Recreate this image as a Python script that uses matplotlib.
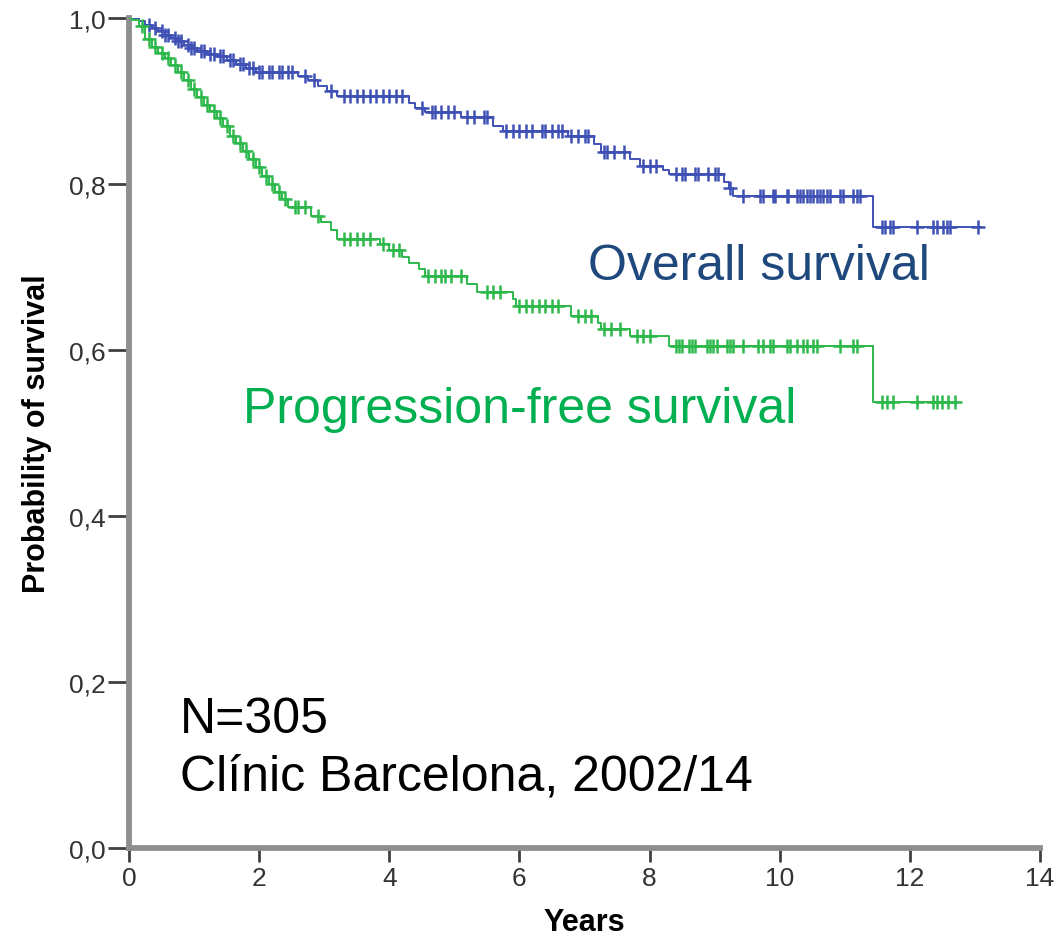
import numpy as np
import matplotlib
matplotlib.use("Agg")
import matplotlib.pyplot as plt

# ---- data ----
os_t = [0.15, 0.25, 0.35, 0.45, 0.55, 0.65, 0.75, 0.85, 0.95, 1.05, 1.2, 1.35, 1.5, 1.65, 1.8, 1.95,
        2.6, 2.75, 2.9, 3.05, 3.2, 4.3, 4.4, 4.55, 5.1, 5.6, 5.75, 6.75, 7.15, 7.25, 7.7, 7.85,
        8.2, 8.3, 9.15, 9.22, 9.28, 11.43]
os_s = [0.996, 0.992, 0.988, 0.984, 0.980, 0.976, 0.972, 0.968, 0.964, 0.960, 0.957, 0.954, 0.950,
        0.945, 0.940, 0.935, 0.930, 0.925, 0.918, 0.912, 0.906, 0.897, 0.891, 0.887, 0.881, 0.870,
        0.864, 0.858, 0.848, 0.839, 0.830, 0.822, 0.817, 0.812, 0.803, 0.795, 0.786, 0.748]
os_end = 13.1
os_cens = [0.3, 0.4, 0.5, 0.55, 0.6, 0.7, 0.75, 0.8, 0.9, 0.95, 1.0, 1.1, 1.15, 1.25, 1.3, 1.4, 1.45,
           1.55, 1.6, 1.7, 1.75, 1.85, 1.9, 2.0, 2.05, 2.15, 2.2, 2.3, 2.35, 2.45, 2.5, 2.7, 2.85,
           3.1, 3.3, 3.4, 3.5, 3.6, 3.7, 3.8, 3.9, 4.0, 4.1, 4.2, 4.5, 4.65, 4.7, 4.8, 4.9, 5.0,
           5.2, 5.3, 5.45, 5.5, 5.8, 5.9, 6.0, 6.1, 6.2, 6.35, 6.4, 6.5, 6.6, 6.65, 6.8, 6.9, 7.0,
           7.05, 7.3, 7.35, 7.45, 7.6, 7.9, 8.0, 8.1, 8.4, 8.5, 8.55, 8.7, 8.75, 8.9, 9.0, 9.05,
           9.24, 9.44, 9.7, 9.74, 9.9, 9.93, 10.11, 10.13, 10.26, 10.31, 10.36, 10.42, 10.46, 10.51,
           10.57, 10.62, 10.66, 10.73, 10.77, 10.92, 10.97, 11.13, 11.19, 11.23, 11.57, 11.62,
           11.69, 11.74, 12.11, 12.36, 12.42, 12.51, 12.57, 12.62, 13.05]

pfs_t = [0.05, 0.15, 0.25, 0.35, 0.45, 0.55, 0.65, 0.75, 0.85, 0.95, 1.05, 1.15, 1.25, 1.35, 1.45,
         1.55, 1.65, 1.75, 1.85, 1.95, 2.05, 2.15, 2.25, 2.35, 2.45, 2.8, 2.95, 3.1, 3.2, 3.85, 4.0,
         4.2, 4.3, 4.45, 4.55, 5.2, 5.35, 5.9, 5.95, 6.8, 7.2, 7.25, 7.7, 8.3, 11.43]
pfs_s = [0.997, 0.990, 0.975, 0.965, 0.958, 0.952, 0.943, 0.935, 0.925, 0.915, 0.905, 0.895, 0.888,
         0.880, 0.870, 0.858, 0.850, 0.840, 0.830, 0.820, 0.810, 0.800, 0.790, 0.782, 0.772, 0.762,
         0.754, 0.745, 0.734, 0.728, 0.720, 0.712, 0.705, 0.697, 0.689, 0.680, 0.670, 0.662, 0.653,
         0.641, 0.632, 0.625, 0.617, 0.605, 0.537]
pfs_end = 12.73
pfs_cens = [0.2, 0.3, 0.4, 0.5, 0.6, 0.7, 0.8, 0.9, 1.0, 1.1, 1.2, 1.3, 1.4, 1.5, 1.6, 1.7, 1.8, 1.9,
            2.0, 2.1, 2.2, 2.3, 2.4, 2.55, 2.6, 2.7, 2.9, 3.3, 3.4, 3.5, 3.6, 3.7, 3.9, 4.05, 4.15,
            4.6, 4.7, 4.8, 4.85, 4.95, 5.1, 5.5, 5.6, 5.7, 6.0, 6.1, 6.2, 6.3, 6.4, 6.5, 6.6, 6.9,
            7.0, 7.1, 7.3, 7.4, 7.55, 7.8, 7.9, 8.0, 8.4, 8.45, 8.5, 8.6, 8.65, 8.7, 8.88, 8.93,
            8.98, 9.04, 9.19, 9.24, 9.28, 9.44, 9.67, 9.74, 9.85, 9.9, 10.11, 10.16, 10.26, 10.36,
            10.42, 10.51, 10.57, 10.93, 11.13, 11.19, 11.57, 11.65, 11.74, 12.11, 12.36, 12.42,
            12.49, 12.59, 12.7]

x_ticks = [0, 2, 4, 6, 8, 10, 12, 14]
y_ticks = [0.0, 0.2, 0.4, 0.6, 0.8, 1.0]
y_tick_labels = ["0,0", "0,2", "0,4", "0,6", "0,8", "1,0"]

plt.rcParams['font.family'] = ['Liberation Sans', 'DejaVu Sans']

fig = plt.figure(figsize=(10.55, 9.37), dpi=100)
ax = fig.add_axes([129 / 1055, 1 - 849 / 937, (1040 - 129) / 1055, (849 - 19) / 937])


def km(ax, t, s, end, cens, color):
    tt = np.concatenate([[0.0], t, [end]])
    ss = np.concatenate([[1.0], s, [s[-1]]])
    ax.step(tt, ss, where='post', color=color, lw=1.4, zorder=3)
    c = np.asarray(cens)
    idx = np.searchsorted(tt, c, side='right') - 1
    ax.plot(c, ss[idx], ls='none', marker='+', ms=10, mew=1.8, color=color, zorder=3)


km(ax, os_t, os_s, os_end, os_cens, '#3F51B5')
km(ax, pfs_t, pfs_s, pfs_end, pfs_cens, '#2DB84B')

ax.set_xlim(0, 14)
ax.set_ylim(0, 1.0)
ax.set_xticks(x_ticks)
ax.set_yticks(y_ticks)
ax.set_yticklabels(y_tick_labels)

for side in ['top', 'right']:
    ax.spines[side].set_visible(False)
for side in ['left', 'bottom']:
    ax.spines[side].set_color('#8f8f8f')
    ax.spines[side].set_linewidth(4.2)
    ax.spines[side].set_zorder(2)

ax.tick_params(axis='y', direction='out', length=15, width=2, color='#404040',
               labelsize=19, labelcolor='#333333', pad=2)
ax.tick_params(axis='x', direction='out', length=10, width=2, color='#404040',
               labelsize=19, labelcolor='#333333', pad=3)

ax.set_ylabel('Probability of survival', fontsize=22, fontweight='bold', labelpad=12)
ax.set_xlabel('Years', fontsize=22, fontweight='bold', labelpad=12)

ax.text(7.05, 0.686, 'Overall survival', fontsize=36, color='#1F497D', va='baseline', ha='left')
ax.text(1.75, 0.513, 'Progression-free survival', fontsize=36, color='#00B050', va='baseline', ha='left')
ax.text(0.78, 0.140, 'N=305', fontsize=36, color='black', va='baseline', ha='left')
ax.text(0.78, 0.071, 'Clínic Barcelona, 2002/14', fontsize=36, color='black', va='baseline', ha='left')

fig.savefig('out.png', dpi=100, facecolor='white')
